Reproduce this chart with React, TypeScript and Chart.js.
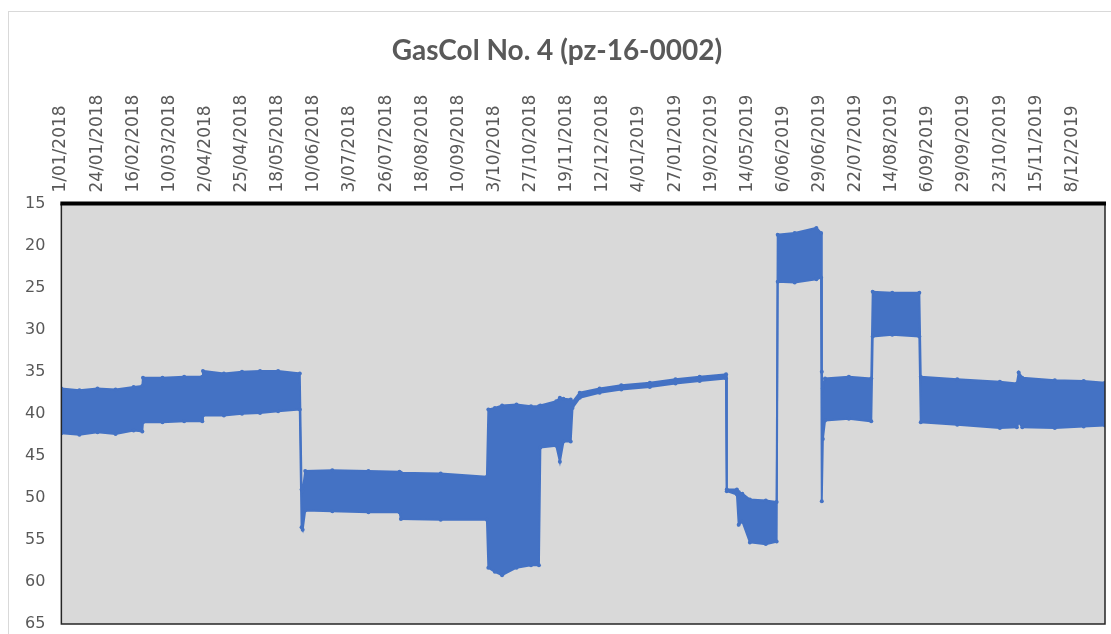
import React, { useEffect, useRef } from "react";
import { Chart, registerables } from "chart.js";

Chart.register(...registerables);

const chartTitle = "GasCol No. 4 (pz-16-0002)";

const tickLabels = [
  "1/01/2018", "24/01/2018", "16/02/2018", "10/03/2018", "2/04/2018", "25/04/2018",
  "18/05/2018", "10/06/2018", "3/07/2018", "26/07/2018", "18/08/2018", "10/09/2018",
  "3/10/2018", "27/10/2018", "19/11/2018", "12/12/2018", "4/01/2019", "27/01/2019",
  "19/02/2019", "14/05/2019", "6/06/2019", "29/06/2019", "22/07/2019", "14/08/2019",
  "6/09/2019", "29/09/2019", "23/10/2019", "15/11/2019", "8/12/2019",
];

// position along the category axis, in units of tick-label intervals
const samplePos = [
  0.0, 0.5, 1.0, 1.5, 2.0, 2.24, 2.26, 2.8, 3.4, 3.9,
  3.92, 4.5, 5.0, 5.5, 6.0, 6.6, 6.65, 6.68, 6.75, 7.5,
  8.5, 9.36, 9.4, 10.5, 11.78, 11.82, 12.0, 12.2, 12.6, 13.0,
  13.22, 13.26, 13.7, 13.8, 13.9, 14.1, 14.15, 14.35, 14.9, 15.5,
  16.29, 17.0, 17.67, 18.4, 18.42, 18.7, 18.75, 18.85, 19.06, 19.5,
  19.8, 19.83, 20.3, 20.9, 21.03, 21.05, 21.08, 21.14, 21.8, 22.42,
  22.46, 23.0, 23.75, 23.79, 24.8, 25.98, 26.45, 26.5, 26.6, 27.5,
  28.3, 28.89,
];

// upper edge (shallowest reading) of the oscillating trace
const depthUpper = [
  37.0, 37.2, 37.0, 37.1, 36.8, 36.7, 35.7, 35.7, 35.6, 35.6,
  34.9, 35.2, 35.0, 34.9, 34.9, 35.2, 49.0, 49.2, 46.8, 46.7,
  46.8, 46.9, 47.0, 47.1, 47.5, 39.5, 39.3, 39.0, 38.9, 39.1,
  39.1, 39.0, 38.5, 38.1, 38.2, 38.3, 38.6, 37.5, 37.0, 36.6,
  36.3, 35.9, 35.6, 35.3, 49.0, 49.0, 49.3, 49.5, 50.2, 50.3,
  50.5, 18.7, 18.5, 17.9, 18.5, 35.0, 37.0, 35.8, 35.6, 35.8,
  25.5, 25.6, 25.6, 35.6, 35.9, 36.2, 36.4, 35.1, 35.7, 36.0,
  36.1, 36.3,
];

// lower edge (deepest reading) of the oscillating trace
const depthLower = [
  42.3, 42.5, 42.2, 42.4, 42.0, 42.1, 41.0, 41.0, 40.9, 40.9,
  40.2, 40.2, 40.0, 39.9, 39.7, 39.5, 53.5, 53.8, 51.5, 51.6,
  51.7, 51.7, 52.5, 52.6, 52.6, 58.3, 58.8, 59.2, 58.3, 58.0,
  58.0, 44.0, 43.8, 45.7, 43.3, 43.3, 39.3, 38.1, 37.5, 37.1,
  36.8, 36.4, 36.1, 35.8, 49.2, 49.6, 53.2, 52.8, 55.3, 55.5,
  55.2, 24.3, 24.4, 24.0, 23.8, 50.4, 43.0, 40.8, 40.6, 40.9,
  30.8, 30.6, 30.8, 41.0, 41.3, 41.7, 41.6, 41.0, 41.6, 41.7,
  41.5, 41.4,
];

const yMin = 15;
const yMax = 65;
const yStep = 5;

const BLUE = "#4472C4";
const TEXT = "#595959";

const framePlugin = {
  id: "frame",
  beforeDraw(chart: any) {
    const { ctx, chartArea: a } = chart;
    ctx.save();
    ctx.fillStyle = "#D9D9D9";
    ctx.fillRect(a.left, a.top, a.right - a.left, a.bottom - a.top);
    ctx.restore();
  },
  afterDraw(chart: any) {
    const { ctx, chartArea: a } = chart;
    ctx.save();
    ctx.strokeStyle = "#262626";
    ctx.lineWidth = 1.5;
    ctx.beginPath();
    ctx.moveTo(a.left, a.top);
    ctx.lineTo(a.left, a.bottom);
    ctx.lineTo(a.right, a.bottom);
    ctx.lineTo(a.right, a.top);
    ctx.stroke();
    ctx.strokeStyle = "#000000";
    ctx.lineWidth = 4;
    ctx.beginPath();
    ctx.moveTo(a.left - 1, a.top);
    ctx.lineTo(a.right + 1, a.top);
    ctx.stroke();
    ctx.restore();
  },
};

export default function App() {
  const ref = useRef<HTMLCanvasElement | null>(null);

  useEffect(() => {
    if (!ref.current) return;
    const upper = samplePos.map((x, i) => ({ x, y: depthUpper[i] }));
    const lower = samplePos.map((x, i) => ({ x, y: depthLower[i] }));
    const chart = new Chart(ref.current, {
      type: "line",
      data: {
        datasets: [
          {
            label: "upper",
            data: upper,
            borderColor: BLUE,
            backgroundColor: BLUE,
            borderWidth: 2,
            pointRadius: 2,
            pointBackgroundColor: BLUE,
            pointBorderWidth: 0,
            tension: 0,
            fill: false,
          },
          {
            label: "lower",
            data: lower,
            borderColor: BLUE,
            backgroundColor: BLUE,
            borderWidth: 2,
            pointRadius: 2,
            pointBackgroundColor: BLUE,
            pointBorderWidth: 0,
            tension: 0,
            fill: "-1",
          },
        ],
      },
      options: {
        animation: false,
        responsive: false,
        devicePixelRatio: 1,
        layout: { padding: { left: 0, right: 6, top: 0, bottom: 0 } },
        plugins: {
          legend: { display: false },
          tooltip: { enabled: false },
          title: {
            display: true,
            text: chartTitle,
            color: TEXT,
            font: { family: "Lato", size: 28, weight: "bold" },
            padding: { top: 22, bottom: 16 },
          },
        },
        scales: {
          x: {
            type: "linear",
            position: "top",
            min: 0,
            max: 28.89,
            afterBuildTicks: (scale: any) => {
              scale.ticks = tickLabels.map((_, i) => ({ value: i }));
            },
            ticks: {
              autoSkip: false,
              minRotation: 90,
              maxRotation: 90,
              padding: 11,
              labelOffset: 20,
              color: TEXT,
              font: { family: "DejaVu Sans", size: 17 },
              callback: (v: any) => tickLabels[Math.round(Number(v))] ?? "",
            },
            grid: { display: false, drawTicks: false },
            border: { display: false },
          },
          y: {
            type: "linear",
            reverse: true,
            min: yMin,
            max: yMax,
            afterFit: (scale: any) => {
              scale.paddingBottom = 10;
            },
            ticks: {
              stepSize: yStep,
              padding: 16,
              color: TEXT,
              font: { family: "DejaVu Sans", size: 16 },
            },
            grid: { display: false, drawTicks: false },
            border: { display: false },
          },
        },
      },
      plugins: [framePlugin],
    });
    return () => chart.destroy();
  }, []);

  return (
    <div
      style={{
        position: "absolute",
        left: 8,
        top: 11,
        borderTop: "1px solid #D9D9D9",
        borderLeft: "1px solid #D9D9D9",
        width: 1102,
        height: 622,
      }}
    >
      <canvas ref={ref} width={1102} height={622} style={{ display: "block" }} />
    </div>
  );
}
